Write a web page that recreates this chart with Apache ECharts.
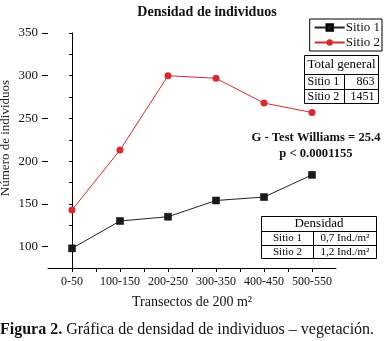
<!DOCTYPE html>
<html><head><meta charset="utf-8">
<script src="https://cdn.jsdelivr.net/npm/echarts@6/dist/echarts.min.js"></script>
<style>html,body{margin:0;padding:0;background:#fff}#c{width:385px;height:341px}</style>
</head><body><div id="c"></div>
<script>
const categories = ['0-50','100-150','200-250','300-350','400-450','500-550'];
const sitio1 = [98, 130, 135, 154, 158, 184];
const sitio2 = [143, 213, 300, 297, 268, 257];
const seriesNames = ['Sitio 1','Sitio 2'];
const totalHeader = 'Total general';
const totalRows = [['Sitio 1','863'],['Sitio 2','1451']];
const densHeader = 'Densidad';
const densRows = [['Sitio 1','0,7 Ind./m²'],['Sitio 2','1,2 Ind./m²']];
const testLines = ['G - Test Williams = 25.4','p < 0.0001155'];
const titleText = 'Densidad de individuos';
const xName = 'Transectos de 200 m²';
const yName = 'Número de individuos';

const F = '"Liberation Serif","DejaVu Serif",serif';
const chart = echarts.init(document.getElementById('c'));

function tableGraphic(x, y, w, rowH, colX, header, rows, hSize, rSize, rightAlign){
  const els = [];
  const h = rowH.reduce((a,b)=>a+b,0);
  els.push({type:'rect', shape:{x:x, y:y, width:w, height:h}, style:{fill:'#fff', stroke:'#000', lineWidth:1}});
  let cy = y + rowH[0];
  els.push({type:'text', style:{text:header, x:x+w/2, y:y+rowH[0]/2, align:'center', verticalAlign:'middle', font:hSize+'px '+F, fill:'#000'}});
  rows.forEach((r,i)=>{
    const rh = rowH[i+1];
    els.push({type:'line', shape:{x1:x, y1:cy, x2:x+w, y2:cy}, style:{stroke:'#000', lineWidth:1}});
    els.push({type:'line', shape:{x1:colX, y1:cy, x2:colX, y2:cy+rh}, style:{stroke:'#000', lineWidth:1}});
    if (rightAlign) {
      els.push({type:'text', style:{text:r[0], x:x+3, y:cy+rh/2, align:'left', verticalAlign:'middle', font:rSize+'px '+F, fill:'#000'}});
      els.push({type:'text', style:{text:r[1], x:x+w-4, y:cy+rh/2, align:'right', verticalAlign:'middle', font:rSize+'px '+F, fill:'#000'}});
    } else {
      els.push({type:'text', style:{text:r[0], x:(x+colX)/2, y:cy+rh/2, align:'center', verticalAlign:'middle', font:rSize+'px '+F, fill:'#000'}});
      els.push({type:'text', style:{text:r[1], x:(colX+x+w)/2, y:cy+rh/2, align:'center', verticalAlign:'middle', font:rSize+'px '+F, fill:'#000'}});
    }
    cy += rh;
  });
  return els;
}

const graphics = [].concat(
  tableGraphic(304.5, 55.5, 74, [19,15,14], 344.5, totalHeader, totalRows, 13, 12, true),
  tableGraphic(261.5, 216.5, 115, [15,14,13], 313.5, densHeader, densRows, 13, 11, false),
  [
    {type:'text', style:{text:testLines[0], x:316, y:138, align:'center', verticalAlign:'middle', font:'bold 12.6px '+F, fill:'#111'}},
    {type:'text', style:{text:testLines[1], x:316, y:154, align:'center', verticalAlign:'middle', font:'bold 12.6px '+F, fill:'#111'}},
    {type:'text', rotation:Math.PI/2, x:6, y:138, style:{text:yName, x:0, y:0, align:'center', verticalAlign:'middle', font:'13px '+F, fill:'#222'}},
    {type:'text', left:0, top:322, style:{text:'{b|Figura 2.} Gráfica de densidad de individuos – vegetación.', font:'16px '+F, fill:'#111', rich:{b:{fontWeight:'bold', fontSize:16, fontFamily:F}}}}
  ]
);

chart.setOption({
  animation:false,
  backgroundColor:'#fff',
  title:{text:titleText, left:202, top:0, textAlign:'center', textStyle:{fontFamily:F, fontWeight:'bold', fontSize:14, color:'#111'}},
  legend:{
    data:seriesNames, orient:'vertical', right:3, top:19,
    borderColor:'#000', borderWidth:1, borderRadius:0, padding:[2,2,2,4], itemGap:2,
    itemWidth:30, itemHeight:8, backgroundColor:'#fff',
    textStyle:{fontFamily:F, fontSize:13, color:'#111', padding:[0,0,0,-4]}
  },
  grid:[
    {left:48, right:49, top:33, bottom:73},
    {left:48, right:49, top:33, bottom:94.4}
  ],
  xAxis:[
    {type:'value', gridIndex:0, min:-0.5, max:5.5, interval:0.5,
     name:xName, nameLocation:'middle', nameGap:27,
     nameTextStyle:{fontFamily:F, fontSize:14, color:'#111'},
     axisLine:{lineStyle:{color:'#000', width:1}},
     axisTick:{show:true, length:4, lineStyle:{color:'#000'}},
     axisLabel:{margin:8, fontFamily:F, fontSize:12, color:'#111',
       formatter:v=>Number.isInteger(v)&&v>=0&&v<categories.length?categories[v]:'',
       showMinLabel:false, showMaxLabel:false},
     splitLine:{show:false}},
    {type:'value', gridIndex:1, min:0, max:1, show:false}
  ],
  yAxis:[
    {type:'value', gridIndex:0, min:75, max:350, interval:25,
     axisLine:{show:true, lineStyle:{color:'#000', width:1}},
     axisTick:{show:true, length:3, lineStyle:{color:'#000'}},
     axisLabel:{show:false}, splitLine:{show:false}},
    {type:'value', gridIndex:1, min:100, max:350, interval:50,
     axisLine:{show:false},
     axisTick:{show:true, length:6, lineStyle:{color:'#000'}},
     axisLabel:{margin:10, fontFamily:F, fontSize:13, color:'#111'},
     splitLine:{show:false}}
  ],
  series:[
    {name:seriesNames[0], type:'line', xAxisIndex:0, yAxisIndex:0,
     data:sitio1.map((v,i)=>[i,v]), symbol:'rect', symbolSize:7,
     itemStyle:{color:'#1a1a1a', borderColor:'#000', borderWidth:0.5},
     lineStyle:{color:'#222', width:1}},
    {name:seriesNames[1], type:'line', xAxisIndex:0, yAxisIndex:0,
     data:sitio2.map((v,i)=>[i,v]), symbol:'circle', symbolSize:7,
     itemStyle:{color:'#d52a30'},
     lineStyle:{color:'#d52a30', width:1}}
  ],
  graphic:graphics
});
</script></body></html>
